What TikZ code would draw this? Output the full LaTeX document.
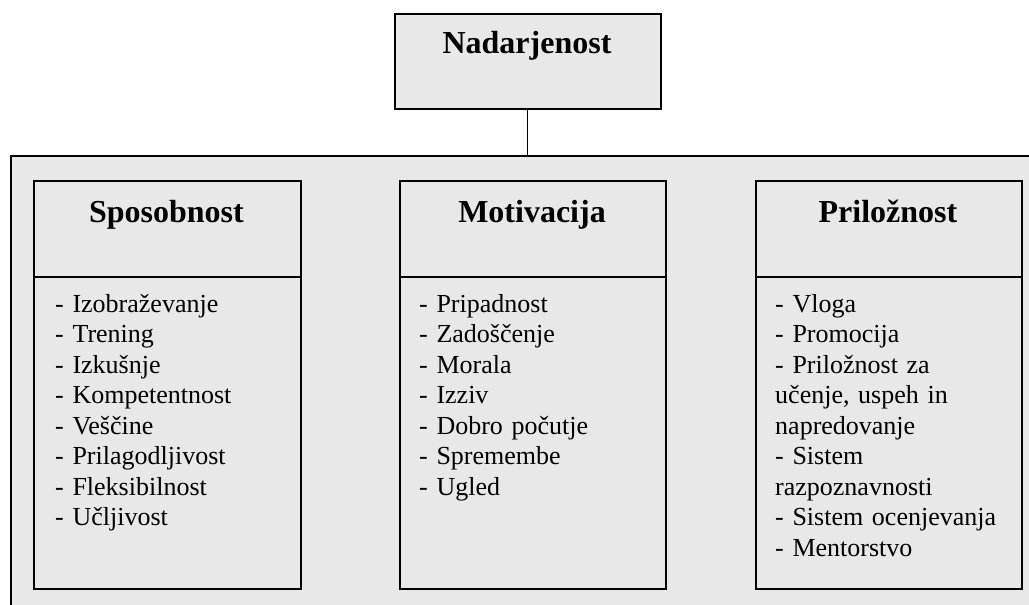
\documentclass[tikz,border=0pt]{standalone}
\usepackage{fontspec}
\setmainfont{Liberation Serif}
\usepackage{tikz}

\definecolor{boxgray}{RGB}{232,232,232}
\tikzset{
  frame/.style={draw=black,line width=1.6pt,fill=boxgray,rectangle,inner sep=0pt},
  head/.style={font=\bfseries\fontsize{32}{38}\selectfont,anchor=base,inner sep=0pt},
  items/.style={font=\fontsize{26}{30.5}\selectfont,anchor=north west,inner sep=0pt,
    align=left,text width=240pt}
}

\begin{document}
\begin{tikzpicture}[x=1pt,y=-1pt]
\useasboundingbox (0,0) rectangle (1029,605);
\clip (0,0) rectangle (1029,605);
% outer panel, runs off the right and bottom edges
\node[frame,minimum width=1040pt,minimum height=470pt,anchor=north west] (panel) at (10,155) {};
% top box
\node[frame,minimum width=266pt,minimum height=95pt,anchor=north west] (nad) at (394,13) {};
\node[head] (nadtitle) at (527,53) {Nadarjenost};
\draw[line width=1.2pt] (nad.south) -- (nad.south |- panel.north);
% three columns
\node[frame,minimum width=267pt,minimum height=408pt,anchor=north west] (spo) at (33,180) {};
\node[frame,minimum width=266pt,minimum height=408pt,anchor=north west] (mot) at (399,180) {};
\node[frame,minimum width=266pt,minimum height=408pt,anchor=north west] (pri) at (755,180) {};
% dividers under the headings
\coordinate (cut) at (0,277);
\draw[line width=1.4pt] (spo.west |- cut) -- (spo.east |- cut);
\draw[line width=1.4pt] (mot.west |- cut) -- (mot.east |- cut);
\draw[line width=1.4pt] (pri.west |- cut) -- (pri.east |- cut);
% headings
\node[head] (spotitle) at (166.5,222) {Sposobnost};
\node[head] (mottitle) at (532,222) {Motivacija};
\node[head] (prititle) at (888,222) {Priložnost};
% lists
\node[items] (spolist) at (55,290.6) {\strut- Izobraževanje\\- Trening\\- Izkušnje\\- Kompetentnost\\- Veščine\\- Prilagodljivost\\- Fleksibilnost\\- Učljivost};
\node[items] (motlist) at (419,290.6) {\strut- Pripadnost\\- Zadoščenje\\- Morala\\- Izziv\\- Dobro počutje\\- Spremembe\\- Ugled};
\node[items] (prilist) at (775,290.6) {\strut- Vloga\\- Promocija\\- Priložnost za\\učenje, uspeh in\\napredovanje\\- Sistem\\razpoznavnosti\\- Sistem ocenjevanja\\- Mentorstvo};
\end{tikzpicture}
\end{document}
